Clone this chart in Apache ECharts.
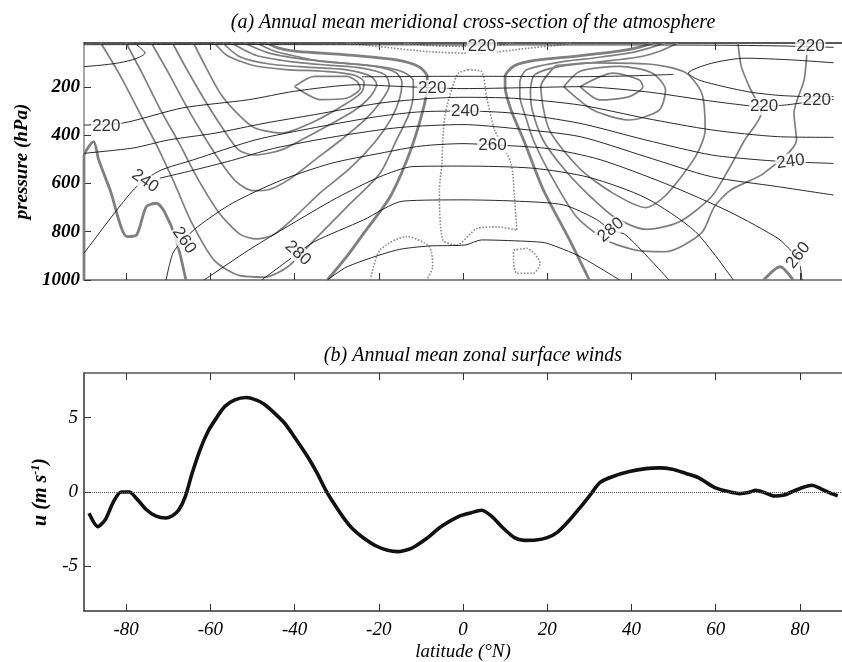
<!DOCTYPE html>
<html><head><meta charset="utf-8">
<script src="https://cdn.jsdelivr.net/npm/echarts@6/dist/echarts.min.js"></script>
<style>html,body{margin:0;padding:0;background:#fff}#c{width:842px;height:662px}</style>
</head><body><div id="c"></div><script>
// ---------- axis ticks ----------
const latTicks = [-80, -60, -40, -20, 0, 20, 40, 60, 80];
const pTicks = [200, 400, 600, 800, 1000];
const uTicks = [-5, 0, 5];

// ---------- panel (a): temperature contours (K), [lat, p] ----------
const Tpole = [[-90,116],[-86,110],[-82.3,102],[-79,90],[-77,78],[-75.5,60],[-76.5,40],[-78,18]];
const T220top = [[-90,25],[-60,24],[-30,25],[0,26],[30,26],[60,27],[75,30],[88,36]];
const T210 = [[-24,158],[-15,157],[-5,156],[5,156],[15,157],[25,158],[35,156],[44,152],[50,148]];
const T220 = [[-90,358],[-80.6,349],[-66.6,287],[-50.9,253],[-40,218],[-25.2,191],[-15,198],[0,207],[15,203],[27.8,199],[43.4,220],[57,254],[64,270],[71,282],[77,274],[84,258],[88,252]];
const T220V = [[88,100],[78,88],[67,81],[59,102],[53.5,143],[56,171],[62,199],[68.4,222],[75,235],[82,240],[88,240]];
const T230 = [[-90,475],[-78.3,453],[-70,420],[-58.7,391],[-47,350],[-35.3,315],[-19.7,267],[-8,248],[0,243],[12,247],[27.8,275],[43.4,330],[59,378],[74.7,406],[88,409]];
const T240 = [[-90,889],[-82.2,710],[-77.5,613],[-72,547],[-64.2,503],[-49.4,420],[-35,368],[-20,322],[-10,303],[0.5,300],[12,309],[27.8,351],[43.4,420],[59,482],[70.8,503],[77.3,510],[88,517]];
const T250 = [[-72,578],[-64,545],[-55,505],[-45,455],[-30,405],[-15,368],[0,356],[12,372],[27.8,406],[43.4,489],[59,572],[74.7,613],[88,648]];
const T260 = [[-70.5,1000],[-68.9,889],[-66.4,834],[-63,779],[-54.8,682],[-43.1,586],[-31.4,517],[-19.7,475],[-10,445],[0,435],[7,440],[20,455],[32.3,500],[48,600],[63.6,720],[75,830],[78,880],[79.6,900],[80.5,1000]];
const T270 = [[-61.5,1000],[-60.3,986],[-50.9,876],[-43.1,793],[-30,660],[-19.7,572],[-11.9,530],[0,528],[16.7,537],[30,575],[43.4,660],[55.2,800],[64.2,1000]];
const T280 = [[-47.8,1000],[-39.2,889],[-35.3,841],[-23.6,751],[-14.2,673],[0,668],[12.2,673],[23.9,689],[31.7,749],[35.1,793],[38.7,814],[48.9,1000]];
const T290 = [[-32.2,1000],[-27.5,945],[-15.8,876],[-8,859],[0.5,855],[4.4,834],[16.7,841],[20,848],[27.8,903],[37.2,1000]];

// ---------- panel (a): zonal wind contours, [lat, p] ----------
const SW_A = [[-90,1000],[-90,489],[-87.7,427],[-86.5,503],[-83.8,627],[-79.8,820],[-77.5,813],[-75.2,696],[-72.8,682],[-70.9,717],[-68.1,834],[-65.8,1000]];
const SW0 = [[-32.2,1000],[-27.5,900],[-23.6,807],[-17.3,655],[-12.7,475],[-9.7,309],[-8.5,200],[-8.5,157],[-10.5,116],[-15.9,88],[-27.7,67],[-39.4,53],[-44,38],[-46.5,18]];
const NW0 = [[30,1000],[25.3,834],[19.1,627],[14.4,420],[11.5,300],[10,200],[10,157],[12.2,112],[17,90],[27,72],[37,52],[42,35],[45,18]];
const NW_A = [[71.4,1000],[75.3,945],[78.4,1000]];
const SC1 = [[-86,18],[-81.5,150],[-77,300],[-72.5,450],[-68.5,600],[-64.5,760],[-59,920],[-53,982],[-47,988],[-41.6,945],[-35.3,834],[-27.5,696],[-19.7,558],[-15.8,420],[-13,320],[-11.8,230],[-11.8,175],[-14,140],[-19,118],[-26,105],[-33.7,94],[-40,72],[-45,50],[-49,18]];
const SC2 = [[-80,18],[-76,150],[-72,290],[-67.5,430],[-63,580],[-58,720],[-53,810],[-49,830],[-45,812],[-40,740],[-34,640],[-27,540],[-21,430],[-17,330],[-15,245],[-14.5,180],[-16,140],[-21,115],[-29,100],[-38,85],[-46,60],[-52,18]];
const SC3 = [[-74,18],[-70,140],[-66,270],[-62,390],[-58,500],[-54,590],[-50,630],[-46,625],[-41,580],[-35,500],[-29,420],[-23.5,340],[-19.5,260],[-17.5,195],[-18.5,150],[-24,122],[-32,110],[-41,95],[-49,70],[-55,18]];
const SC4 = [[-69,18],[-65.5,130],[-61.5,250],[-57.5,360],[-53.3,461],[-49.4,482],[-43.1,461],[-38.4,420],[-32,360],[-26,300],[-22,240],[-20.5,190],[-22,155],[-28,128],[-37,118],[-46,105],[-53,75],[-57,18]];
const SC5 = [[-64,18],[-61,120],[-57.5,230],[-53,320],[-49.4,370],[-43.1,391],[-35.3,343],[-27.5,267],[-24,220],[-23.5,180],[-26,150],[-33,135],[-42,128],[-50,110],[-56,70],[-59,18]];
const SCore = [[-40,198],[-35.3,156],[-27.5,156],[-25.2,177],[-24.4,205],[-27.5,246],[-33.7,253],[-40,198]];
const N1 = [[48,18],[44,40],[40,58],[32,78],[22,100],[15,130],[13.5,180],[13.5,240],[14.8,320],[16.7,420],[20.6,558],[26.9,737],[33.9,834],[41,876],[48,883],[56.6,806],[59.7,696],[63.6,627],[71.4,558],[79.2,420],[78.6,309],[81,171],[81.6,74],[81.7,18]];
const N2 = [[51,18],[47,50],[42,75],[33,95],[23,115],[17,150],[16,220],[16.5,300],[19,420],[24,540],[30,650],[36,740],[43.4,790],[51.3,760],[59,655],[63,544],[66.9,420],[70.8,309],[68,200],[66.1,116],[65.3,18]];
const NC3 = [[22,112],[18.5,199],[20.5,378],[27.8,540],[35.6,640],[43.4,700],[48.1,650],[55.2,489],[57.5,378],[56.7,226],[52.8,140],[44,105],[30,100],[22,112]];
const NC2 = [[23.9,199],[27.8,135],[37.2,115],[45,143],[48.1,213],[46.6,296],[39.5,337],[30.9,296],[23.9,199]];
const NCore = [[27.8,199],[35.6,143],[41.9,171],[42.7,199],[39.5,240],[32.5,254],[27.8,199]];
const DTrop = [[1.2,129],[4.4,136],[5.6,240],[7.5,378],[11.4,516],[12.2,655],[12.8,793],[8,780],[3.4,786],[-1.5,855],[-4.8,834],[-5.6,627],[-5,516],[-4.8,420],[-4.2,309],[-2.5,200],[-1.1,143],[1.2,129]];
const DSurfS = [[-22,1000],[-19.7,876],[-13.4,820],[-8,862],[-7.2,945],[-8.7,1000]];
const DSurfN = [[12,876],[15.2,869],[18.3,931],[16.7,972],[12.8,972],[12,917],[12,876]];
const DTop1 = [[-27.7,18],[-19.9,33],[-8.1,54],[3.6,61],[15.3,40],[23.1,26],[26,18]];
const DTop2 = [[-14,18],[-8,28],[0,32],[8,27],[12,18]];

// contour labels
const labText = ['220','220','220','220','240','260','240','260','280','280','260','220','220','240'];
const labLat  = [4.5, 82.5, -84.7, -7.3, 0.5, 7, -75.5, -66.2, -39.2, 35.1, 79.6, 71.5, 84, 77.8];
const labP    = [30, 33, 365, 207, 300, 440, 590, 836, 889, 793, 898, 282, 256, 510];
const labRot  = [0, 0, 0, 0, 0, 0, -35, -55, -42, 40, 52, 0, 0, 8];

// ---------- panel (b): annual mean zonal surface wind ----------
const latU = [-88.8,-86.7,-84.9,-83.1,-81.2,-79.2,-77.7,-75.3,-73.0,-70.6,-69.1,-67.5,-65.9,-64.4,-62.4,-60.5,-58.5,-56.6,-54.2,-51.5,-49.2,-47.2,-44.9,-42.5,-40.2,-37.0,-34.7,-32.7,-30.8,-28.4,-26.1,-23.7,-20.6,-17.9,-15.5,-12.8,-11.25,-8.9,-5.0,-1.1,2.0,4.4,6.7,9.4,12.2,14.5,17.3,20.0,22.3,25.1,27.8,30.2,32.5,35.6,39.5,43.4,46.6,49.7,52.8,55.9,59.8,63.0,65.7,67.7,69.6,71.6,73.9,76.3,78.6,81.0,82.9,84.9,87.7,89];
const uVal = [-1.43,-2.33,-1.84,-0.71,0.0,0.0,-0.38,-1.16,-1.61,-1.75,-1.61,-1.21,-0.27,1.19,2.87,4.1,5.0,5.74,6.19,6.35,6.19,5.9,5.34,4.67,3.77,2.42,1.3,0.18,-0.71,-1.72,-2.51,-3.07,-3.63,-3.92,-4.01,-3.85,-3.63,-3.18,-2.29,-1.65,-1.39,-1.23,-1.61,-2.39,-3.07,-3.25,-3.23,-3.07,-2.73,-1.95,-1.05,-0.2,0.63,1.04,1.37,1.57,1.62,1.53,1.26,0.97,0.3,0.03,-0.11,-0.04,0.11,-0.04,-0.27,-0.2,0.07,0.34,0.45,0.23,-0.13,-0.25];

// ---------- build ----------
const chart = echarts.init(document.getElementById('c'), null, {renderer: 'canvas'});
const serif = 'Liberation Serif, Times New Roman, serif';
const GREY = '#7f7f7f';

function cl(data, color, width, type, z) {
  return {type: 'line', xAxisIndex: 0, yAxisIndex: 0, data: data, symbol: 'none',
    smooth: 0.25, silent: true, z: z || 2, animation: false,
    lineStyle: {color: color, width: width, type: type || 'solid'}};
}
const series = [];
[SW_A, SW0, NW0, NW_A].forEach(d => series.push(cl(d, GREY, 2.8, 'solid', 3)));
[SC1, SC2, SC3, SC4, SC5, SCore, N1, N2, NC3, NC2, NCore].forEach(d => series.push(cl(d, GREY, 1.7, 'solid', 3)));
[DTrop, DSurfS, DSurfN, DTop1, DTop2].forEach(d => series.push(cl(d, '#8a8a8a', 1.6, 'dotted', 3)));
[Tpole, T220top, T210, T220, T220V, T230, T240, T250, T260, T270, T280, T290].forEach(d => series.push(cl(d, '#111', 0.9, 'solid', 4)));

series.push({
  type: 'scatter', xAxisIndex: 0, yAxisIndex: 0, symbolSize: 1, z: 10, silent: true, animation: false,
  itemStyle: {color: 'rgba(0,0,0,0)'},
  data: labText.map((t, i) => ({value: [labLat[i], labP[i]],
    label: {show: true, formatter: t, rotate: labRot[i]}})),
  label: {show: true, position: 'inside', fontFamily: 'Liberation Sans, Arial, sans-serif',
    fontSize: 17, color: '#000', backgroundColor: '#fff', padding: [0, 1]}
});

series.push({
  type: 'line', xAxisIndex: 2, yAxisIndex: 1, symbol: 'none', smooth: 0.25, animation: false,
  data: latU.map((x, i) => [x, uVal[i]]),
  lineStyle: {color: '#111', width: 3.6},
  markLine: {symbol: 'none', silent: true, label: {show: false}, animation: false,
    lineStyle: {color: '#555', type: 'dotted', width: 1}, data: [{yAxis: 0}]}
});

const tickInside = (len, color) => ({show: true, inside: true, length: len, lineStyle: {color: color, width: 1}});
const plain = v => String(v);

chart.setOption({
  backgroundColor: '#fff',
  animation: false,
  title: [
    {text: '(a) Annual mean meridional cross-section of the atmosphere', left: 468, top: 8, textAlign: 'center',
     textStyle: {fontFamily: serif, fontStyle: 'italic', fontWeight: 'normal', fontSize: 20, color: '#000'}},
    {text: '(b) Annual mean zonal surface winds', left: 468, top: 341, textAlign: 'center',
     textStyle: {fontFamily: serif, fontStyle: 'italic', fontWeight: 'normal', fontSize: 20, color: '#000'}}
  ],
  grid: [
    {left: 84, top: 43, width: 768, height: 237},
    {left: 84, top: 373, width: 768, height: 240}
  ],
  xAxis: [
    {gridIndex: 0, type: 'value', min: -90, max: 90, position: 'bottom',
     axisLine: {show: true, onZero: false, lineStyle: {color: '#8a8a8a', width: 2}},
     axisTick: Object.assign(tickInside(7, '#333'), {customValues: latTicks}),
     axisLabel: {show: false}, splitLine: {show: false}},
    {gridIndex: 0, type: 'value', min: -90, max: 90, position: 'top',
     axisLine: {show: true, onZero: false, lineStyle: {color: '#222', width: 1.5}},
     axisTick: Object.assign(tickInside(7, '#333'), {customValues: latTicks}),
     axisLabel: {show: false}, splitLine: {show: false}},
    {gridIndex: 1, type: 'value', min: -90, max: 90, position: 'bottom',
     name: 'latitude (°N)', nameLocation: 'middle', nameGap: 31,
     nameTextStyle: {fontFamily: serif, fontStyle: 'italic', fontSize: 19, color: '#000'},
     axisLine: {show: true, onZero: false, lineStyle: {color: '#333', width: 1.5}},
     axisTick: Object.assign(tickInside(7, '#333'), {customValues: latTicks}),
     axisLabel: {show: true, customValues: latTicks, formatter: plain, margin: 9, fontFamily: serif, fontStyle: 'italic', fontSize: 19, color: '#000'},
     splitLine: {show: false}},
    {gridIndex: 1, type: 'value', min: -90, max: 90, position: 'top',
     axisLine: {show: true, onZero: false, lineStyle: {color: '#555', width: 1.5}},
     axisTick: Object.assign(tickInside(7, '#333'), {customValues: latTicks}),
     axisLabel: {show: false}, splitLine: {show: false}}
  ],
  yAxis: [
    {gridIndex: 0, type: 'value', inverse: true, min: 18, max: 1000, position: 'left',
     name: 'pressure (hPa)', nameLocation: 'middle', nameGap: 51,
     nameTextStyle: {fontFamily: serif, fontStyle: 'italic', fontWeight: 'bold', fontSize: 19, color: '#000'},
     axisLine: {show: true, onZero: false, lineStyle: {color: '#8a8a8a', width: 1.5}},
     axisTick: Object.assign(tickInside(7, '#333'), {customValues: pTicks}),
     axisLabel: {show: true, customValues: pTicks, formatter: plain, margin: 4, fontFamily: serif, fontStyle: 'italic', fontWeight: 'bold', fontSize: 19, color: '#000'},
     splitLine: {show: false}},
    {gridIndex: 1, type: 'value', min: -8, max: 8, position: 'left',
     name: 'u (m s{s|-1})', nameLocation: 'middle', nameGap: 31,
     nameTextStyle: {fontFamily: serif, fontStyle: 'italic', fontWeight: 'bold', fontSize: 20, color: '#000',
       rich: {s: {fontFamily: serif, fontStyle: 'italic', fontWeight: 'bold', fontSize: 12, color: '#000', padding: [0, 0, 10, 0]}}},
     axisLine: {show: true, onZero: false, lineStyle: {color: '#333', width: 1.5}},
     axisTick: Object.assign(tickInside(7, '#333'), {customValues: uTicks}),
     axisLabel: {show: true, customValues: uTicks, formatter: plain, margin: 6, fontFamily: serif, fontStyle: 'italic', fontSize: 19, color: '#000'},
     splitLine: {show: false}}
  ],
  series: series
});
</script></body></html>
